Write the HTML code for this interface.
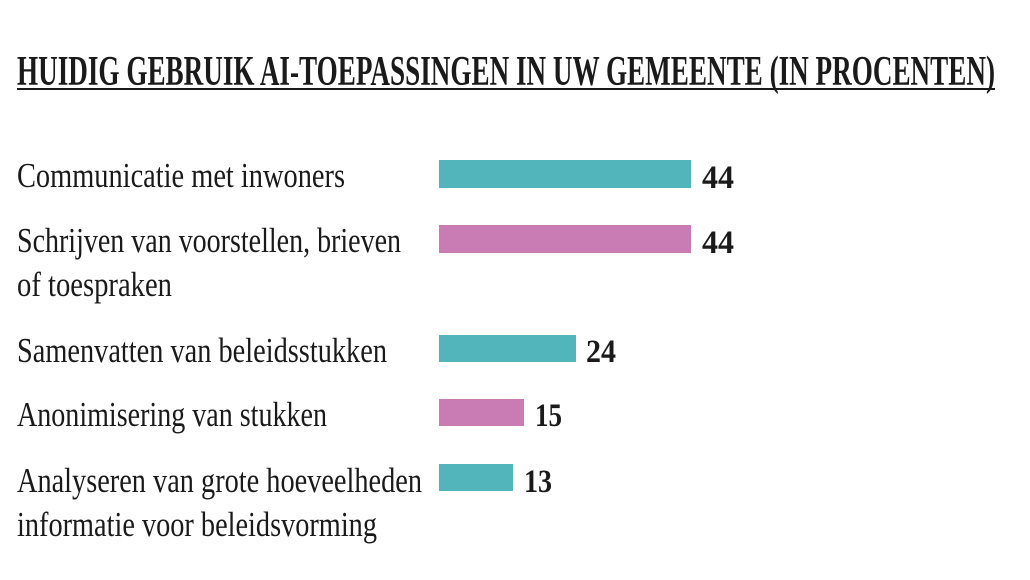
<!DOCTYPE html>
<html><head><meta charset="utf-8"><style>
html,body{margin:0;padding:0;background:#fff;}
svg{display:block;}
text{font-family:"Liberation Serif",serif;fill:#1a1a1a;}
</style></head><body>
<svg width="1030" height="580" viewBox="0 0 1030 580">
<text x="17" y="85" font-size="42" font-weight="bold" textLength="978" lengthAdjust="spacingAndGlyphs">HUIDIG GEBRUIK AI-TOEPASSINGEN IN UW GEMEENTE (IN PROCENTEN)</text>
<rect x="17" y="88" width="978" height="2" fill="#1a1a1a"/>
<g font-size="35">
<text x="17" y="187" textLength="328" lengthAdjust="spacingAndGlyphs">Communicatie met inwoners</text>
<text x="17" y="252" textLength="384" lengthAdjust="spacingAndGlyphs">Schrijven van voorstellen, brieven</text>
<text x="17" y="296" textLength="155" lengthAdjust="spacingAndGlyphs">of toespraken</text>
<text x="17" y="362" textLength="370" lengthAdjust="spacingAndGlyphs">Samenvatten van beleidsstukken</text>
<text x="17" y="426" textLength="310" lengthAdjust="spacingAndGlyphs">Anonimisering van stukken</text>
<text x="17" y="492" textLength="405" lengthAdjust="spacingAndGlyphs">Analyseren van grote hoeveelheden</text>
<text x="17" y="536" textLength="360" lengthAdjust="spacingAndGlyphs">informatie voor beleidsvorming</text>
</g>
<rect x="439" y="160" width="252" height="28" fill="#52b5bc"/>
<rect x="439" y="225" width="252" height="28" fill="#c97bb3"/>
<rect x="439" y="335" width="137" height="27" fill="#52b5bc"/>
<rect x="439" y="399" width="85" height="27" fill="#c97bb3"/>
<rect x="439" y="464" width="74" height="27" fill="#52b5bc"/>
<g font-size="33" font-weight="bold">
<text x="702" y="188" textLength="32" lengthAdjust="spacingAndGlyphs">44</text>
<text x="702" y="253" textLength="32" lengthAdjust="spacingAndGlyphs">44</text>
<text x="586" y="362" textLength="30" lengthAdjust="spacingAndGlyphs">24</text>
<text x="535" y="426" textLength="27" lengthAdjust="spacingAndGlyphs">15</text>
<text x="524" y="492" textLength="28" lengthAdjust="spacingAndGlyphs">13</text>
</g>
</svg>
</body></html>
